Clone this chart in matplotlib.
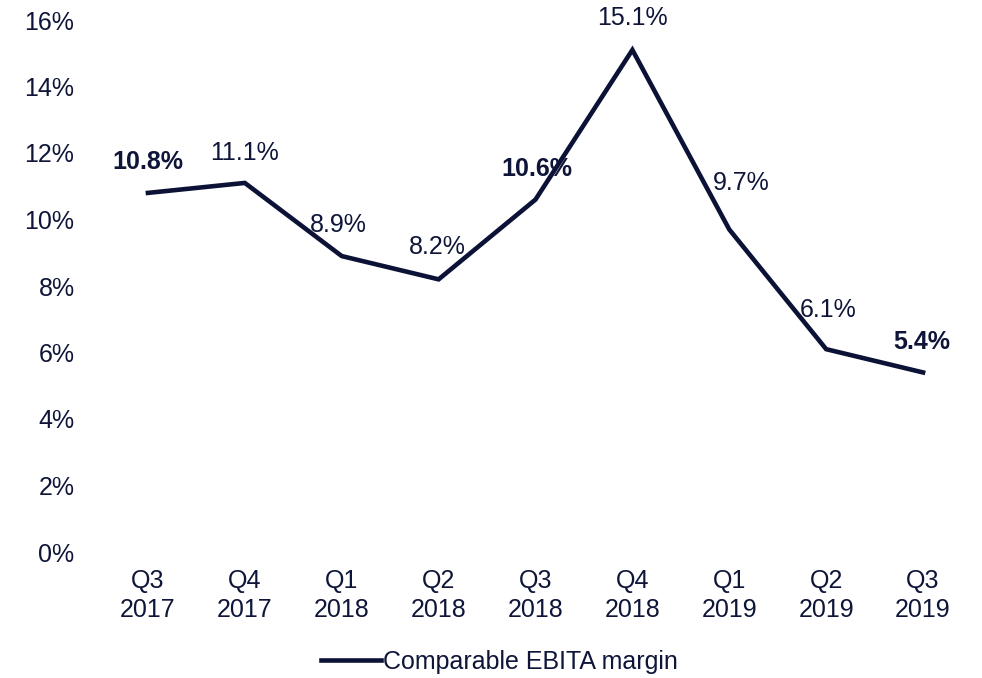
import matplotlib
matplotlib.use("Agg")
import matplotlib.pyplot as plt

# Data
quarters = ["Q3\n2017", "Q4\n2017", "Q1\n2018", "Q2\n2018", "Q3\n2018",
            "Q4\n2018", "Q1\n2019", "Q2\n2019", "Q3\n2019"]
margin = [10.8, 11.1, 8.9, 8.2, 10.6, 15.1, 9.7, 6.1, 5.4]
bold_labels = [True, False, False, False, True, False, False, False, True]
yticks = [0, 2, 4, 6, 8, 10, 12, 14, 16]
series_name = "Comparable EBITA margin"

NAVY = "#0b1236"
TEXT = "#0e1538"
FS = 18

plt.rcParams['font.family'] = ['Liberation Sans', 'DejaVu Sans']

fig = plt.figure(figsize=(9.82, 6.78), dpi=100)
ax = fig.add_axes([99.5 / 982, 1 - 552 / 678, 872 / 982, 532 / 678])

x = list(range(len(quarters)))
ax.plot(x, margin, color=NAVY, linewidth=3.3, solid_joinstyle='miter',
        label=series_name)

# label offsets in pixels (dx, dy)
offsets = [(0, 31), (0, 30), (-3, 31), (-1, 32), (1, 31),
           (0, 32), (12, 46), (2, 39), (-1, 30)]
for xi, v, b, (dx, dy) in zip(x, margin, bold_labels, offsets):
    ax.annotate(f"{v:.1f}%", (xi, v), xytext=(dx, dy), textcoords='offset pixels',
                ha='center', va='center', fontsize=FS,
                fontweight='bold' if b else 'normal', color=TEXT)

ax.set_xlim(-0.5, len(quarters) - 0.5)
ax.set_ylim(0, 16)
ax.set_yticks(yticks)
ax.set_yticklabels([f"{t}%" for t in yticks])
ax.set_xticks(x)
ax.set_xticklabels(quarters, linespacing=1.3)
ax.tick_params(axis='both', length=0, labelsize=FS, colors=TEXT)
ax.tick_params(axis='y', pad=18)
ax.tick_params(axis='x', pad=12)
for s in ax.spines.values():
    s.set_visible(False)

leg = fig.legend(loc='center', bbox_to_anchor=(499 / 982, 1 - 662 / 678),
                 frameon=False, fontsize=FS, handlelength=2.4,
                 handletextpad=0.08, labelcolor=TEXT, borderpad=0.2)

fig.savefig("out.png", dpi=100)
